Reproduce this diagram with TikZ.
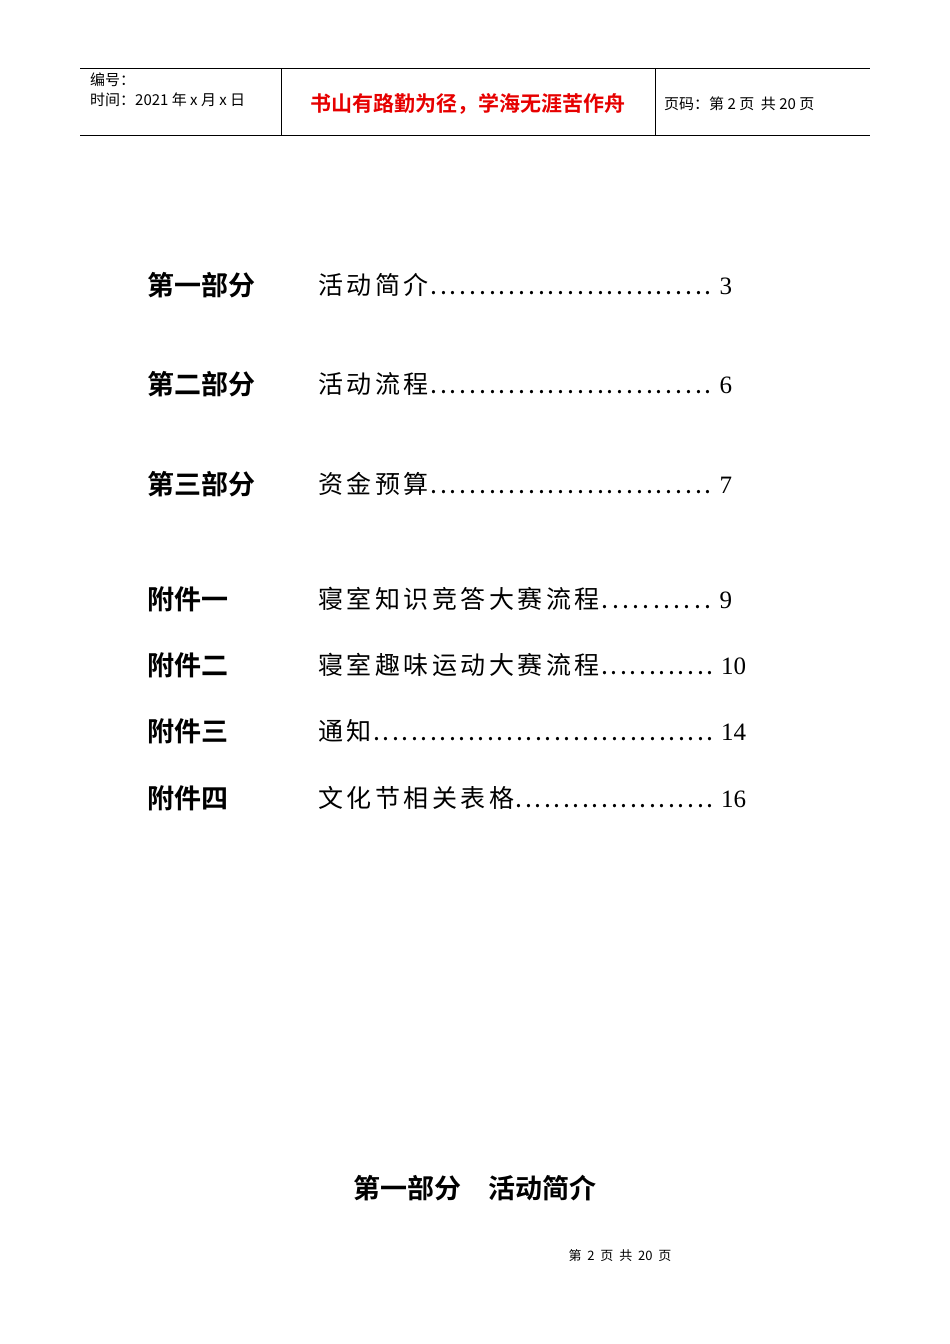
\documentclass[tikz,border=0pt]{standalone}
\usepackage{fontspec}
\setmainfont{Liberation Serif}
\newfontfamily\cjk{Noto Sans CJK SC}
\newfontfamily\cjkb{Noto Sans CJK SC Bold}
\newfontfamily\cjksp[LetterSpace=14]{Noto Sans CJK SC}
\newcommand{\tocline}[3]{\makebox[#3pt][l]{#1\xleaders\hbox to 9.5pt{\hss\raisebox{0pt}{.}\hss}\hfill\fontspec{Liberation Serif}\ #2}}
\begin{document}
\begin{tikzpicture}[x=1pt,y=-1pt,
  hdr/.style={anchor=west,font=\cjk\fontsize{15}{17}\selectfont,inner sep=0},
  part/.style={anchor=west,font=\cjkb\fontsize{27}{30}\selectfont,inner sep=0},
  entry/.style={anchor=west,font=\cjksp\fontsize{25}{30}\selectfont,inner sep=0}]
\useasboundingbox (0,0) rectangle (950,1344);
\draw[line width=0.8pt] (80,68) -- (870,68);
\draw[line width=0.8pt] (80,135) -- (870,135);
\draw[line width=0.8pt] (281,68) -- (281,135);
\draw[line width=0.8pt] (655,68) -- (655,135);
\node[hdr] (h1) at (90,80) {编号：};
\node[hdr] (h2) at (90,100) {时间：2021 年 x 月 x 日};
\node[font=\cjkb\fontsize{21}{24}\selectfont,text={rgb,255:red,230;green,0;blue,0},inner sep=0] (h3) at (468,104) {书山有路勤为径，学海无涯苦作舟};
\node[hdr] (h4) at (664,104) {页码：第 2 页\ \ 共 20 页};
\node[part] (p1) at (147,285) {第一部分};
\node[part] (p2) at (147,384) {第二部分};
\node[part] (p3) at (147,484) {第三部分};
\node[part] (p4) at (147,599) {附件一};
\node[part] (p5) at (147,665) {附件二};
\node[part] (p6) at (147,731) {附件三};
\node[part] (p7) at (147,798) {附件四};
\node[entry] (e1) at (318,285) {\tocline{活动简介}{3}{414}};
\node[entry] (e2) at (318,384) {\tocline{活动流程}{6}{414}};
\node[entry] (e3) at (318,484) {\tocline{资金预算}{7}{414}};
\node[entry] (e4) at (318,599) {\tocline{寝室知识竞答大赛流程}{9}{414}};
\node[entry] (e5) at (318,665) {\tocline{寝室趣味运动大赛流程}{10}{428}};
\node[entry] (e6) at (318,731) {\tocline{通知}{14}{428}};
\node[entry] (e7) at (318,798) {\tocline{文化节相关表格}{16}{428}};
\node[font=\cjkb\fontsize{27}{30}\selectfont,inner sep=0] (t) at (475,1188) {第一部分\hspace{1em}活动简介};
\node[font=\cjk\fontsize{13}{15}\selectfont,inner sep=0] (f) at (620,1256) {第\ \ 2\ \ 页\ \ 共\ \ 20\ \ 页};
\end{tikzpicture}
\end{document}
